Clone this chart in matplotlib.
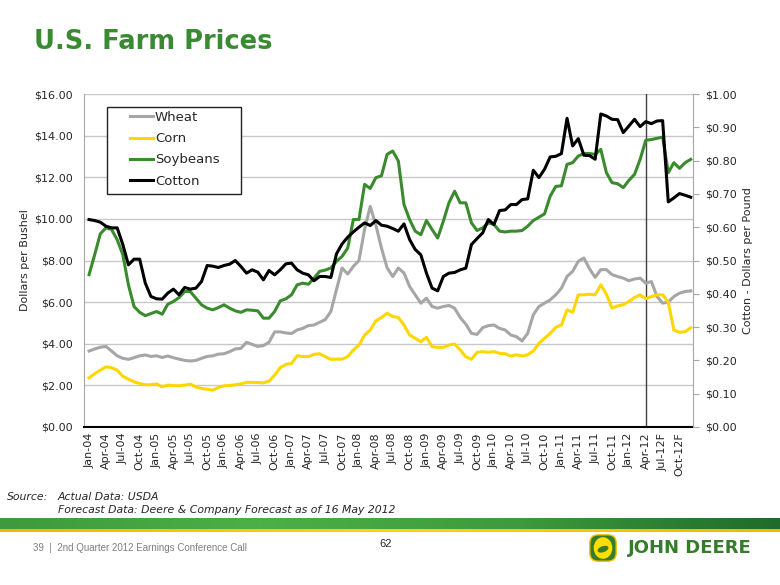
import numpy as np
import pandas as pd
import matplotlib
matplotlib.use('Agg')
import matplotlib.pyplot as plt
from matplotlib.colors import LinearSegmentedColormap
from matplotlib.patches import FancyBboxPatch, Ellipse, Rectangle

# monthly series, Jan-04 .. Dec-12 (forecast from May-12)
months = pd.date_range('2004-01-01', '2012-12-01', freq='MS')

wheat = [3.65, 3.75, 3.83, 3.87, 3.65, 3.42, 3.30, 3.25, 3.33, 3.42, 3.46, 3.39,
         3.42, 3.34, 3.41, 3.33, 3.26, 3.20, 3.17, 3.20, 3.30, 3.39, 3.42, 3.50,
         3.52, 3.62, 3.75, 3.78, 4.07, 3.97, 3.87, 3.91, 4.07, 4.57, 4.57, 4.52,
         4.49, 4.66, 4.74, 4.87, 4.90, 5.03, 5.16, 5.55, 6.60, 7.64, 7.35, 7.72,
         8.00, 9.50, 10.60, 9.70, 8.60, 7.65, 7.23, 7.64, 7.40, 6.75, 6.35, 5.95,
         6.19, 5.79, 5.71, 5.79, 5.84, 5.71, 5.26, 4.94, 4.50, 4.45, 4.77, 4.87,
         4.90, 4.74, 4.66, 4.42, 4.34, 4.13, 4.50, 5.39, 5.79, 5.95, 6.11, 6.35,
         6.67, 7.23, 7.48, 7.96, 8.12, 7.60, 7.19, 7.56, 7.56, 7.32, 7.23, 7.15,
         7.03, 7.11, 7.15, 6.91, 6.99, 6.27, 5.95, 6.00, 6.27, 6.43, 6.51, 6.54]

corn = [2.36, 2.56, 2.73, 2.89, 2.85, 2.73, 2.44, 2.30, 2.17, 2.09, 2.03, 2.03,
        2.07, 1.93, 2.01, 1.99, 1.98, 2.01, 2.06, 1.93, 1.85, 1.82, 1.77, 1.90,
        1.98, 1.99, 2.03, 2.07, 2.15, 2.14, 2.14, 2.12, 2.20, 2.49, 2.85, 3.01,
        3.05, 3.42, 3.39, 3.38, 3.49, 3.52, 3.38, 3.25, 3.26, 3.26, 3.38, 3.70,
        3.94, 4.42, 4.66, 5.10, 5.26, 5.47, 5.31, 5.26, 4.90, 4.42, 4.26, 4.10,
        4.31, 3.86, 3.83, 3.83, 3.94, 3.99, 3.70, 3.38, 3.25, 3.59, 3.62, 3.59,
        3.62, 3.54, 3.52, 3.41, 3.47, 3.41, 3.47, 3.65, 4.02, 4.26, 4.50, 4.79,
        4.90, 5.63, 5.51, 6.35, 6.35, 6.38, 6.35, 6.83, 6.38, 5.71, 5.82, 5.87,
        6.03, 6.22, 6.35, 6.16, 6.27, 6.35, 6.35, 6.00, 4.66, 4.55, 4.58, 4.77]

soybeans = [7.32, 8.28, 9.28, 9.57, 9.49, 9.00, 8.28, 6.83, 5.79, 5.51, 5.35, 5.45,
            5.55, 5.42, 5.90, 6.03, 6.22, 6.51, 6.51, 6.19, 5.87, 5.71, 5.63, 5.74,
            5.87, 5.71, 5.58, 5.51, 5.63, 5.61, 5.58, 5.23, 5.23, 5.55, 6.06, 6.16,
            6.35, 6.83, 6.91, 6.86, 7.15, 7.48, 7.54, 7.64, 7.96, 8.20, 8.60, 9.97,
            9.97, 11.66, 11.46, 11.98, 12.07, 13.10, 13.26, 12.78, 10.69, 9.97, 9.41, 9.24,
            9.92, 9.49, 9.08, 9.89, 10.77, 11.33, 10.77, 10.77, 9.81, 9.44, 9.57, 9.81,
            9.73, 9.41, 9.37, 9.41, 9.41, 9.44, 9.65, 9.92, 10.08, 10.24, 11.09, 11.56,
            11.59, 12.62, 12.70, 13.02, 13.14, 13.14, 13.10, 13.34, 12.22, 11.74, 11.69, 11.50,
            11.85, 12.14, 12.86, 13.78, 13.81, 13.87, 13.93, 12.22, 12.70, 12.43, 12.70, 12.86]

cotton = [0.623, 0.620, 0.615, 0.603, 0.598, 0.598, 0.548, 0.487, 0.504, 0.504, 0.432, 0.392,
          0.385, 0.384, 0.402, 0.414, 0.397, 0.419, 0.414, 0.417, 0.437, 0.485, 0.483, 0.479,
          0.485, 0.489, 0.500, 0.482, 0.462, 0.472, 0.465, 0.442, 0.470, 0.457, 0.472, 0.490,
          0.492, 0.472, 0.462, 0.457, 0.439, 0.452, 0.452, 0.449, 0.520, 0.550, 0.570, 0.586,
          0.600, 0.613, 0.605, 0.620, 0.606, 0.603, 0.596, 0.588, 0.610, 0.563, 0.533, 0.517,
          0.462, 0.417, 0.409, 0.452, 0.462, 0.464, 0.472, 0.477, 0.548, 0.566, 0.583, 0.623,
          0.608, 0.650, 0.652, 0.668, 0.668, 0.683, 0.685, 0.771, 0.749, 0.774, 0.811, 0.813,
          0.821, 0.927, 0.844, 0.866, 0.816, 0.815, 0.804, 0.940, 0.934, 0.924, 0.923, 0.884,
          0.904, 0.924, 0.902, 0.917, 0.911, 0.919, 0.920, 0.676, 0.688, 0.701, 0.696, 0.690]

forecast_start = pd.Timestamp('2012-04-01')

tick_idx = list(range(0, len(months), 3))
tick_labels = [months[i].strftime('%b-%y') + ('F' if months[i] > forecast_start else '')
               for i in tick_idx]

GREEN = '#3A8A34'
TXT = '#262626'

fig = plt.figure(figsize=(7.8, 5.85), dpi=100)
fig.patch.set_facecolor('white')

fig.text(34 / 780, 1 - 42 / 585, 'U.S. Farm Prices', fontsize=18.5, fontweight='bold',
         color=GREEN, va='center', ha='left')

ax = fig.add_axes([84 / 780, 1 - 427 / 585, 609 / 780, 333 / 585])
x = np.arange(len(months))

l1, = ax.plot(x, wheat, color='#A6A6A6', lw=2.2, label='Wheat')
l2, = ax.plot(x, corn, color='#FFD700', lw=2.2, label='Corn')
l3, = ax.plot(x, soybeans, color='#3A8A2E', lw=2.2, label='Soybeans')

ax.set_xlim(-0.9, 107.4)
ax.set_ylim(0, 16)
ax.set_yticks(np.arange(0, 17, 2))
ax.set_yticklabels(['$%.2f' % v for v in np.arange(0, 17, 2)], fontsize=8, color=TXT)
ax.set_xticks(tick_idx)
ax.set_xticklabels(tick_labels, rotation=90, fontsize=8, color=TXT)
ax.tick_params(axis='x', length=0, pad=4)
ax.tick_params(axis='y', length=0, pad=8)
ax.yaxis.grid(True, color='#C8C8C8', lw=1)
ax.set_axisbelow(True)
for s in ['top', 'right']:
    ax.spines[s].set_visible(False)
ax.spines['left'].set_color('#A6A6A6')
ax.spines['bottom'].set_color('black')
ax.spines['bottom'].set_linewidth(1.5)
ax.set_ylabel('Dollars per Bushel', fontsize=8, color=TXT)
ax.yaxis.set_label_coords(-0.088, 0.5)
ax.axvline(99, color='#404040', lw=1, zorder=1)

ax2 = ax.twinx()
l4, = ax2.plot(x, cotton, color='black', lw=2.2, label='Cotton')
ax2.set_ylim(0, 1)
ax2.set_yticks(np.arange(0, 1.01, 0.1))
ax2.set_yticklabels(['$%.2f' % v for v in np.arange(0, 1.01, 0.1)], fontsize=8, color=TXT)
ax2.tick_params(axis='y', direction='out', length=4, color='#A6A6A6', pad=5)
for s in ['top', 'left', 'bottom']:
    ax2.spines[s].set_visible(False)
ax2.spines['right'].set_color('#A6A6A6')
ax2.set_ylabel('Cotton - Dollars per Pound', fontsize=8, color=TXT, rotation=90)
ax2.yaxis.set_label_coords(1.082, 0.5)

# legend box drawn separately to get the wide side padding
ax2.add_patch(Rectangle((0.0378, 0.6997), 0.22, 0.2613, transform=ax2.transAxes,
                        fc='white', ec='#222222', lw=1, zorder=5))
leg = ax2.legend(handles=[l1, l2, l3, l4], loc='upper left',
                 bbox_to_anchor=(0.0755, 0.949), borderaxespad=0, borderpad=0,
                 fontsize=9.5, frameon=False,
                 handlelength=1.75, handletextpad=0.15, labelspacing=0.62)
leg.set_zorder(6)
for t in leg.get_texts():
    t.set_color(TXT)

# source note
fig.text(7 / 780, 1 - 497 / 585, 'Source:', fontsize=7.8, style='italic', color=TXT, va='center')
fig.text(58 / 780, 1 - 497 / 585, 'Actual Data: USDA', fontsize=7.8, style='italic',
         color=TXT, va='center')
fig.text(58 / 780, 1 - 510 / 585, 'Forecast Data: Deere & Company Forecast as of 16 May 2012',
         fontsize=7.8, style='italic', color=TXT, va='center')

# footer band
band = fig.add_axes([0, 1 - 529 / 585, 1, 11 / 585])
gcm = LinearSegmentedColormap.from_list('g', ['#3E9A3C', '#4DAF47', '#3E9A3C', '#1F6B2C'])
band.imshow(np.linspace(0, 1, 256).reshape(1, -1), aspect='auto', cmap=gcm)
band.axis('off')
stripe = fig.add_axes([0, 1 - 532 / 585, 1, 3 / 585])
ycm = LinearSegmentedColormap.from_list('y', ['#F2B800', '#FFD21A', '#F2B800'])
stripe.imshow(np.linspace(0, 1, 256).reshape(1, -1), aspect='auto', cmap=ycm)
stripe.axis('off')

fig.text(33 / 780, 1 - 548 / 585, '39  |  2nd Quarter 2012 Earnings Conference Call',
         fontsize=7, family='Liberation Sans', color='#7F7F7F', va='center')
fig.text(386 / 780, 1 - 544 / 585, '62', fontsize=8, family='Liberation Sans',
         color=TXT, va='center', ha='center')

# logo
logo = fig.add_axes([588 / 780, 1 - 563 / 585, 30 / 780, 30 / 585])
logo.set_xlim(0, 1)
logo.set_ylim(0, 1)
logo.axis('off')
logo.add_patch(FancyBboxPatch((0.06, 0.06), 0.88, 0.88, boxstyle='round,pad=0,rounding_size=0.28',
                              fc='#367C2B', ec='#F2C200', lw=1))
logo.add_patch(Ellipse((0.5, 0.5), 0.62, 0.72, fc='#FFDE00', ec='none'))
logo.add_patch(Ellipse((0.5, 0.46), 0.38, 0.2, fc='#367C2B', ec='none', angle=20))
fig.text(628 / 780, 1 - 548 / 585, 'JOHN DEERE', fontsize=13, fontweight='bold',
         color='#367C2B', va='center')

fig.savefig('out.png', dpi=100)
